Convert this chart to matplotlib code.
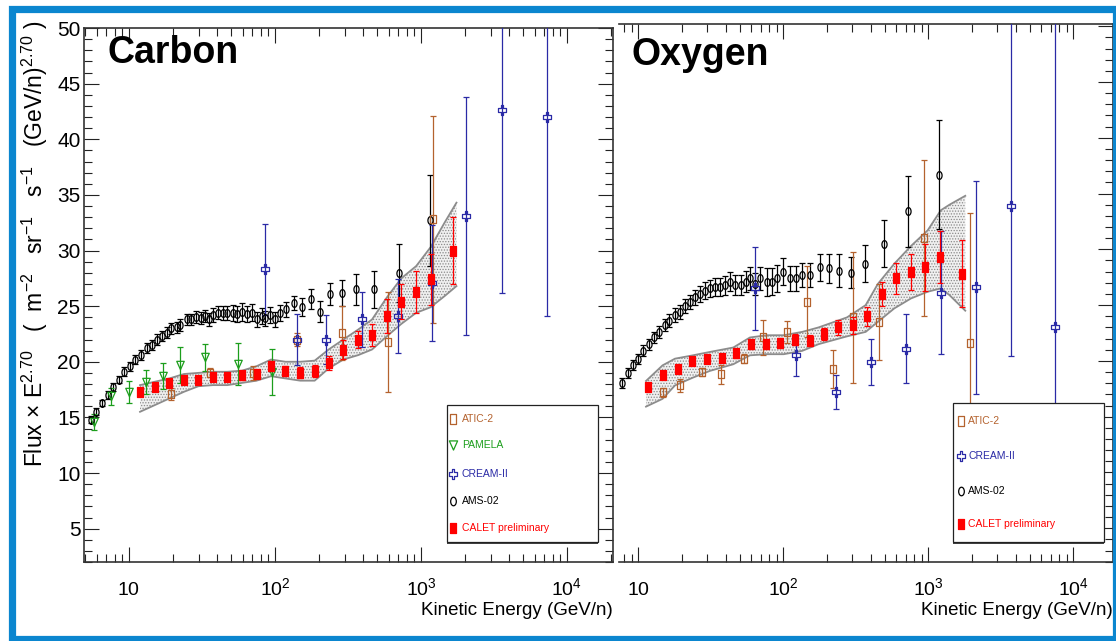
import numpy as np
import matplotlib
matplotlib.use("Agg")
import matplotlib.pyplot as plt
from matplotlib.path import Path
from matplotlib.transforms import Affine2D
from matplotlib.patches import Rectangle
from matplotlib.ticker import MultipleLocator, FixedLocator, FixedFormatter, NullFormatter, LogLocator

# ---------------- Carbon ----------------
c_ams_e = [5.46, 5.97, 6.53, 7.16, 7.81, 8.58, 9.3, 10.2, 11.0, 12.0, 13.2, 14.3, 15.5, 16.9, 18.3,
           19.5, 21.2, 22.5, 24.8, 26.7, 29.0, 31.2, 33.3, 35.6, 37.9, 41.0, 43.9, 47.2, 51.4, 55.2,
           59.1, 63.9, 69.2, 74.8, 80.9, 86.0, 92.0, 99.5, 107.6, 119, 136, 153, 177, 203, 238,
           287, 357, 476, 703, 1153]
c_ams_f = [14.8, 15.5, 16.3, 17.0, 17.7, 18.4, 19.1, 19.6, 20.2, 20.6, 21.2, 21.5, 22.0, 22.3, 22.6,
           23.0, 23.1, 23.3, 23.8, 23.8, 24.0, 23.9, 24.1, 23.8, 24.2, 24.4, 24.4, 24.4, 24.4, 24.3,
           24.5, 24.3, 24.4, 23.8, 24.1, 23.9, 24.2, 23.8, 24.4, 24.7, 25.3, 24.9, 25.6, 24.5, 26.1,
           26.2, 26.5, 26.5, 28.0, 32.7]
c_ams_err = [0.3, 0.3, 0.3, 0.35, 0.35, 0.35, 0.4, 0.4, 0.4, 0.45, 0.45, 0.45, 0.45, 0.45, 0.5,
             0.5, 0.5, 0.5, 0.5, 0.5, 0.55, 0.55, 0.55, 0.6, 0.6, 0.6, 0.65, 0.65, 0.7, 0.7,
             0.8, 0.75, 0.75, 0.7, 0.7, 0.7, 0.7, 0.7, 0.7, 0.7, 0.65, 0.8, 0.9, 0.95, 1.0,
             1.15, 1.4, 1.65, 2.6, 4.1]

c_pam_e = [5.76, 7.55, 9.95, 13.0, 17.1, 22.2, 33.0, 55.6, 95.5]
c_pam_f = [14.6, 16.9, 17.3, 18.2, 18.7, 19.7, 20.4, 19.8, 19.1]
c_pam_err = [0.7, 0.75, 1.0, 1.1, 1.15, 1.6, 1.2, 1.85, 2.05]

c_atic_e = [19.3, 36.0, 71.0, 141, 290, 594, 1213]
c_atic_f = [17.1, 19.0, 19.0, 22.0, 22.6, 21.8, 32.8]
c_atic_err = [0.5, 0.4, 0.65, 0.6, 2.4, 4.5, 9.3]

c_cream_e = [86, 141, 225, 393, 698, 1183, 2040, 3570, 7250]
c_cream_f = [28.3, 22.0, 22.0, 23.8, 24.1, 27.1, 33.1, 42.6, 42.0]
c_cream_lo = [4.1, 2.25, 2.2, 2.5, 3.3, 5.2, 10.7, 16.4, 17.9]
c_cream_hi = [4.1, 2.25, 2.2, 2.5, 3.3, 5.2, 10.7, 16.4, 17.9]

c_calet_e = [11.9, 15.0, 18.9, 23.8, 29.9, 37.6, 47.2, 59.4, 74.8, 94, 118, 149, 187, 233, 294,
             372, 462, 585, 733, 927, 1164, 1660]
c_calet_f = [17.3, 17.7, 18.1, 18.4, 18.4, 18.6, 18.6, 18.8, 18.9, 19.6, 19.2, 19.0, 19.2, 19.9, 21.1,
             22.0, 22.4, 24.1, 25.4, 26.3, 27.4, 30.0]
c_calet_err = [0.35, 0.35, 0.35, 0.35, 0.35, 0.35, 0.35, 0.4, 0.4, 0.45, 0.45, 0.5, 0.55, 0.65, 0.85,
               0.8, 0.95, 1.5, 1.6, 1.9, 2.3, 3.0]

c_band_e = [11.9, 15, 18.9, 23.8, 29.9, 37.6, 47.2, 59.4, 74.8, 94, 118, 149, 187, 233, 294,
            372, 462, 585, 733, 927, 1164, 1450, 1750]
c_band_hi = [17.9, 18.2, 18.5, 18.9, 19.0, 19.1, 19.1, 19.2, 19.6, 20.2, 20.0, 20.0, 20.1, 21.1, 22.0,
             22.9, 23.8, 25.8, 27.5, 28.6, 30.3, 32.5, 34.3]
c_band_lo = [15.5, 16.1, 16.7, 17.3, 17.8, 17.9, 17.9, 18.1, 18.3, 18.7, 18.5, 18.3, 18.3, 19.4, 20.2,
             20.6, 21.1, 22.3, 23.4, 24.4, 24.9, 25.9, 26.8]

# ---------------- Oxygen ----------------
o_ams_e = [7.7, 8.44, 9.13, 9.95, 10.8, 11.8, 12.9, 14.0, 15.2, 16.4, 17.8, 19.3, 20.9, 22.6, 24.5,
           26.5, 28.7, 31.1, 33.7, 36.5, 39.6, 42.9, 46.4, 51.1, 55.3, 59.0, 63.9, 69.2, 77, 83.5,
           90.4, 99.5, 112, 123, 135, 154, 179, 206, 242, 295, 365, 492, 730, 1186]
o_ams_f = [18.0, 18.9, 19.6, 20.2, 20.9, 21.5, 22.1, 22.6, 23.2, 23.6, 24.1, 24.4, 24.9, 25.3, 25.7,
           26.0, 26.3, 26.5, 26.6, 26.6, 26.8, 27.1, 26.8, 26.8, 27.1, 27.4, 26.9, 27.4, 27.1, 27.1,
           27.4, 28.0, 27.4, 27.4, 27.7, 27.7, 28.4, 28.3, 28.1, 27.9, 28.7, 30.5, 33.4, 36.7]
o_ams_err = [0.45, 0.45, 0.45, 0.45, 0.5, 0.5, 0.5, 0.55, 0.55, 0.6, 0.6, 0.6, 0.65, 0.65, 0.7,
             0.7, 0.75, 0.75, 0.8, 0.8, 0.85, 0.85, 0.9, 0.9, 0.95, 1.0, 1.0, 1.05, 1.25, 1.2,
             1.2, 1.2, 1.1, 1.1, 1.1, 1.1, 1.2, 1.3, 1.5, 1.4, 1.65, 2.1, 3.2, 4.9]

o_atic_e = [14.9, 19.3, 27.7, 37.1, 53.9, 73.0, 106.7, 146, 222, 305, 459, 940, 1937]
o_atic_f = [17.2, 17.8, 19.0, 18.8, 20.2, 22.1, 22.6, 25.3, 19.3, 23.9, 23.5, 31.0, 21.6]
o_atic_err = [0.4, 0.6, 0.35, 0.85, 0.4, 1.55, 1.0, 3.2, 1.7, 5.9, 3.4, 7.0, 11.7]

o_cream_e = [63.9, 122, 232, 404, 703, 1230, 2130, 3730, 7500]
o_cream_f = [26.5, 20.5, 17.2, 19.9, 21.1, 26.1, 26.6, 33.9, 23.0]
o_cream_lo = [3.7, 1.85, 1.5, 2.1, 3.1, 5.5, 9.55, 13.5, 13.0]
o_cream_hi = [3.7, 1.85, 1.5, 2.1, 3.1, 5.5, 9.55, 20.0, 30.0]

o_calet_e = [11.7, 14.7, 18.7, 23.4, 29.7, 37.5, 47.2, 59.7, 75.4, 95.3, 120, 152, 190, 238, 301,
             379, 476, 600, 759, 953, 1211, 1722]
o_calet_f = [17.7, 18.7, 19.3, 20.0, 20.2, 20.3, 20.7, 21.5, 21.5, 21.6, 21.9, 21.8, 22.4, 23.0, 23.2,
             24.0, 26.0, 27.4, 28.0, 28.4, 29.3, 27.8]
o_calet_err = [0.35, 0.35, 0.35, 0.35, 0.35, 0.35, 0.4, 0.4, 0.4, 0.45, 0.5, 0.5, 0.55, 0.65, 0.75,
               0.85, 1.1, 1.4, 1.6, 2.1, 2.3, 3.0]

o_band_e = [11.3, 14.7, 17.9, 23.8, 31.1, 45.2, 58.9, 76.9, 100.6, 135, 175, 275, 370, 449, 582,
            760, 990, 1220, 1400, 1800]
o_band_hi = [18.2, 19.6, 20.2, 20.5, 20.8, 21.2, 22.1, 22.3, 22.3, 22.6, 23.0, 23.9, 25.0, 26.9, 28.7,
             30.3, 31.7, 33.5, 34.0, 34.8]
o_band_lo = [15.9, 16.6, 17.8, 18.5, 19.1, 19.7, 20.5, 20.6, 20.6, 20.9, 21.5, 22.2, 22.6, 23.5, 24.7,
             25.6, 26.2, 26.5, 25.9, 24.5]

x_ticks = [10, 100, 1000, 10000]
x_tick_labels = ["$10$", "$10^{2}$", "$10^{3}$", "$10^{4}$"]

# colours
BROWN = "#b4622e"
GREEN = "#1c9e1c"
BLUE = "#2a2aa6"
RED = "#ff0000"
FRAME = "#0b86cf"

plt.rcParams["font.family"] = ["Liberation Sans", "DejaVu Sans"]
plt.rcParams["mathtext.fontset"] = "custom"
plt.rcParams["mathtext.rm"] = "Liberation Sans"
plt.rcParams["mathtext.it"] = "Liberation Sans:italic"
plt.rcParams["mathtext.bf"] = "Liberation Sans:bold"
plt.rcParams["hatch.linewidth"] = 0.6


def poly(verts, sx=1.0):
	v = np.array(verts, float)
	v[:, 0] *= sx
	v = np.vstack([v, v[:1]])
	return Path(v, closed=True)

m_ellipse = Path.unit_circle().transformed(Affine2D().scale(0.66, 1.0))
m_rect = poly([(-1, -1), (1, -1), (1, 1), (-1, 1)], 0.68)
m_tri = poly([(-0.5, 0.5), (0.5, 0.5), (0, -0.5)], 0.9)
a = 1 / 6.
m_cross = poly([(-a, -0.5), (a, -0.5), (a, -a), (0.5, -a), (0.5, a), (a, a), (a, 0.5), (-a, 0.5),
                (-a, a), (-0.5, a), (-0.5, -a), (-a, -a)], 0.8)

STYLE = {
	"ATIC-2": (BROWN, m_rect, 6.0, False),
	"PAMELA": (GREEN, m_tri, 6.0, False),
	"CREAM-II": (BLUE, m_cross, 6.5, False),
	"AMS-02": ("black", m_ellipse, 5.6, False),
	"CALET preliminary": (RED, m_rect, 6.6, True),
}


def points(ax, name, e, f, err, z=4):
	color, marker, ms, filled = STYLE[name]
	ax.errorbar(e, f, yerr=err, fmt="none", ecolor=color, elinewidth=0.9,
	            capsize=2.2, capthick=0.9, zorder=z)
	ax.plot(e, f, ls="none", marker=marker, ms=ms, mec=color,
	        mfc=color if filled else "none", mew=0.9, zorder=z + 0.5)


def band(ax, e, lo, hi):
	ax.fill_between(e, lo, hi, facecolor="#f0f0f0", edgecolor="#8a8a8a", hatch="......",
	                linewidth=0, zorder=2)
	ax.plot(e, hi, color="#8c8c8c", lw=1.3, zorder=2.5)
	ax.plot(e, lo, color="#8c8c8c", lw=1.3, zorder=2.5)


def legend(ax, box, names, ys, mx, tx):
	x0, y0, x1, y1 = box
	ax.add_patch(Rectangle((x0, y0 - 0.005), x1 - x0, y1 - y0, transform=ax.transAxes,
	                       fc="#444444", ec="none", zorder=9, clip_on=False))
	ax.add_patch(Rectangle((x0, y0), x1 - x0, y1 - y0, transform=ax.transAxes,
	                       fc="white", ec="#222222", lw=0.9, zorder=10, clip_on=False))
	for name, y in zip(names, ys):
		color, marker, ms, filled = STYLE[name]
		ax.plot([mx], [y], transform=ax.transAxes, ls="none", marker=marker, ms=ms * 1.1,
		        mec=color, mfc=color if filled else "none", mew=0.9, zorder=11, clip_on=False)
		ax.text(tx, y, name, transform=ax.transAxes, color=color, fontsize=7.5,
		        ha="left", va="center", zorder=11)


def style_axes(ax, xlim, ylim, left_side):
	ax.set_xscale("log")
	ax.set_xlim(*xlim)
	ax.set_ylim(*ylim)
	ax.xaxis.set_major_locator(FixedLocator(x_ticks))
	ax.xaxis.set_major_formatter(FixedFormatter(x_tick_labels))
	ax.xaxis.set_minor_locator(LogLocator(base=10, subs=np.arange(2, 10)))
	ax.xaxis.set_minor_formatter(NullFormatter())
	ax.yaxis.set_major_locator(MultipleLocator(5))
	ax.yaxis.set_minor_locator(MultipleLocator(1))
	ax.tick_params(which="both", direction="in", top=True, right=True, left=left_side,
	               labelleft=left_side, width=0.8, color="#222222")
	ax.tick_params(which="major", length=11)
	ax.tick_params(which="minor", length=5.5)
	ax.tick_params(axis="x", labelsize=14, pad=24)
	ax.tick_params(axis="y", labelsize=15, pad=2.5)
	plt.setp(ax.get_xticklabels(), va="baseline")
	for s in ax.spines.values():
		s.set_linewidth(1.2)
		s.set_color("#333333")
	if not left_side:
		ax.spines["left"].set_visible(False)
	ax.set_xlabel("Kinetic Energy (GeV/n)", fontsize=13.5, loc="right")
	ax.xaxis.set_label_coords(1.0, -0.075)


fig = plt.figure(figsize=(11.16, 6.41), dpi=100)

# ----- Carbon panel -----
ax1 = fig.add_axes([0.07527, 0.12324, 0.47357, 0.83307])
band(ax1, c_band_e, c_band_lo, c_band_hi)
points(ax1, "AMS-02", c_ams_e, c_ams_f, c_ams_err)
points(ax1, "PAMELA", c_pam_e, c_pam_f, c_pam_err)
points(ax1, "ATIC-2", c_atic_e, c_atic_f, c_atic_err)
points(ax1, "CREAM-II", c_cream_e, c_cream_f, [c_cream_lo, c_cream_hi])
points(ax1, "CALET preliminary", c_calet_e, c_calet_f, c_calet_err, z=6)
style_axes(ax1, (4.92, 2.05e4), (2, 50), True)
ax1.text(0.0454, 0.9345, "Carbon", transform=ax1.transAxes, fontsize=27, fontweight="bold",
         va="baseline", ha="left")
legend(ax1, (0.687, 0.038, 0.9726, 0.294),
       ["ATIC-2", "PAMELA", "CREAM-II", "AMS-02", "CALET preliminary"],
       [0.267, 0.219, 0.165, 0.114, 0.064], 0.698, 0.715)

# ----- Oxygen panel -----
ax2 = fig.add_axes([0.55466, 0.12371, 0.44265, 0.83885])
band(ax2, o_band_e, o_band_lo, o_band_hi)
points(ax2, "AMS-02", o_ams_e, o_ams_f, o_ams_err)
points(ax2, "ATIC-2", o_atic_e, o_atic_f, o_atic_err)
points(ax2, "CREAM-II", o_cream_e, o_cream_f, [o_cream_lo, o_cream_hi])
points(ax2, "CALET preliminary", o_calet_e, o_calet_f, o_calet_err, z=6)
style_axes(ax2, (7.36, 1.88e4), (2.0, 50.2), False)
ax2.text(0.0263, 0.9237, "Oxygen", transform=ax2.transAxes, fontsize=27, fontweight="bold",
         va="baseline", ha="left")
legend(ax2, (0.6767, 0.037, 0.9818, 0.2946),
       ["ATIC-2", "CREAM-II", "AMS-02", "CALET preliminary"],
       [0.262, 0.197, 0.132, 0.0696], 0.6917, 0.7071)

# y label shared on the left
fig.text(35 / 1116, 1 - 244 / 641,
         "Flux $\\times$ E$^{2.70}$   (  m$^{-2}$   sr$^{-1}$   s$^{-1}$   (GeV/n)$^{2.70}$ )",
         rotation=90, ha="center", va="center", fontsize=16.5)

# blue slide frame
fig.patches.append(Rectangle((11.5 / 1116, 2 / 641), (1115.5 - 11.5) / 1116, (632.15 - 2) / 641,
                             transform=fig.transFigure, fill=False, ec=FRAME, lw=5.2, zorder=20))

fig.savefig("out.png", dpi=100)
